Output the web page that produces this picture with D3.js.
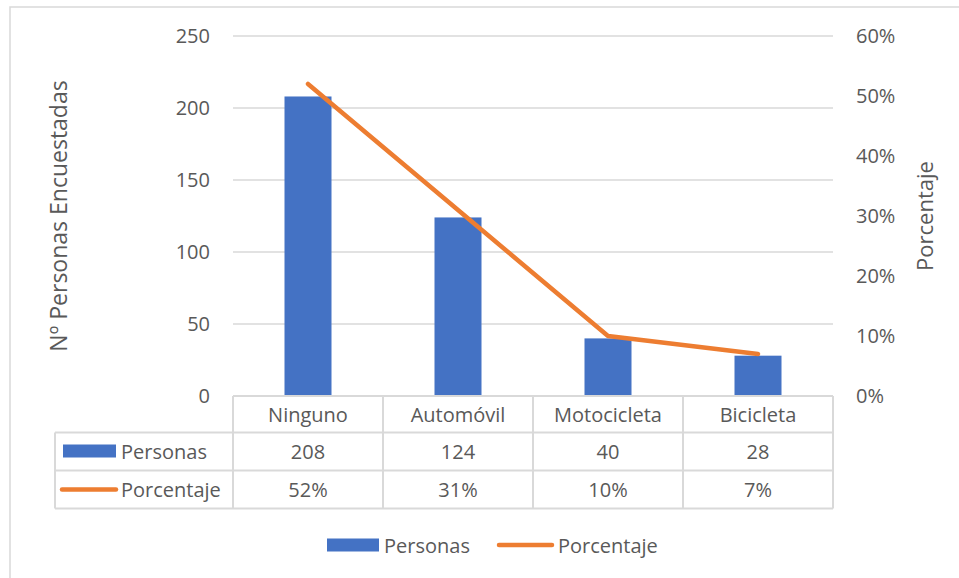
<!DOCTYPE html>
<html><head><meta charset="utf-8">
<script src="https://cdn.jsdelivr.net/npm/d3@7"></script>
<style>body{margin:0;background:#fff}svg{display:block;font-family:"Open Sans",sans-serif}</style>
</head><body>
<svg id="c" width="959" height="578"></svg>
<script>
const categories = ["Ninguno","Automóvil","Motocicleta","Bicicleta"];
const personas = [208,124,40,28];
const porcentaje = [0.52,0.31,0.10,0.07];
const leftTicks = [0,50,100,150,200,250];
const rightTicks = [0,0.1,0.2,0.3,0.4,0.5,0.6];
const seriesNames = ["Personas","Porcentaje"];
const pctLabels = ["52%","31%","10%","7%"];

const svg = d3.select("#c");
const textCol = "#595959", gridCol = "#D9D9D9", blue = "#4472C4", orange = "#ED7D31";
const fs = 20;

svg.append("rect").attr("x",10).attr("y",7).attr("width",1000).attr("height",700)
  .attr("fill","none").attr("stroke",gridCol).attr("stroke-width",1.5);

const xc = d3.scaleBand().domain(categories).range([233,833]);
const yL = d3.scaleLinear().domain([0,250]).range([396,36]);
const yR = d3.scaleLinear().domain([0,0.6]).range([396,36]);

// gridlines
svg.append("g").selectAll("line").data(leftTicks.filter(d=>d>0)).join("line")
  .attr("x1",233).attr("x2",833).attr("y1",d=>yL(d)).attr("y2",d=>yL(d))
  .attr("stroke",gridCol).attr("stroke-width",1.3);

// left axis
const gL = svg.append("g").attr("transform","translate(233,0)")
  .call(d3.axisLeft(yL).tickValues(leftTicks).tickSize(0).tickPadding(23));
gL.select(".domain").remove();
gL.selectAll("text").attr("fill",textCol).style("font-size",fs+"px").style("font-family","Open Sans");

// right axis
const gR = svg.append("g").attr("transform","translate(833,0)")
  .call(d3.axisRight(yR).tickValues(rightTicks).tickFormat(d3.format(".0%")).tickSize(0).tickPadding(23));
gR.select(".domain").remove();
gR.selectAll("text").attr("fill",textCol).style("font-size",fs+"px").style("font-family","Open Sans");

// bars
svg.append("g").selectAll("rect").data(categories).join("rect")
  .attr("x",d=>xc(d)+xc.bandwidth()/2-23.5).attr("width",47)
  .attr("y",(d,i)=>yL(personas[i])).attr("height",(d,i)=>yL(0)-yL(personas[i]))
  .attr("fill",blue);

// line
const line = d3.line().x((d,i)=>xc(categories[i])+xc.bandwidth()/2).y(d=>yR(d));
svg.append("path").datum(porcentaje).attr("d",line).attr("fill","none")
  .attr("stroke",orange).attr("stroke-width",4.5).attr("stroke-linecap","round").attr("stroke-linejoin","round");

// axis titles
svg.append("text").attr("transform","translate(67,216) rotate(-90)").attr("text-anchor","middle")
  .attr("fill",textCol).style("font-size","23px").text("Nº Personas Encuestadas");
svg.append("text").attr("transform","translate(933,216) rotate(-90)").attr("text-anchor","middle")
  .attr("fill",textCol).style("font-size","22px").text("Porcentaje");

// data table
const rowY = [396,432.5,470.5,508.5];
const tg = svg.append("g").attr("stroke",gridCol).attr("stroke-width",2);
tg.append("line").attr("x1",233).attr("x2",833).attr("y1",rowY[0]).attr("y2",rowY[0]);
[1,2,3].forEach(k=>tg.append("line").attr("x1",55).attr("x2",833).attr("y1",rowY[k]).attr("y2",rowY[k]));
tg.append("line").attr("x1",55).attr("x2",55).attr("y1",rowY[1]).attr("y2",rowY[3]);
categories.forEach(c=>tg.append("line").attr("x1",xc(c)).attr("x2",xc(c)).attr("y1",rowY[0]).attr("y2",rowY[3]));
tg.append("line").attr("x1",833).attr("x2",833).attr("y1",rowY[0]).attr("y2",rowY[3]);

const cellText = (txt, cx, cy, anchor) => svg.append("text").attr("x",cx).attr("y",cy)
  .attr("text-anchor",anchor||"middle").attr("dominant-baseline","central")
  .attr("fill",textCol).style("font-size",fs+"px").text(txt);

categories.forEach((c,i)=>{
  const cx = xc(c)+xc.bandwidth()/2;
  cellText(c, cx, (rowY[0]+rowY[1])/2);
  cellText(personas[i], cx, (rowY[1]+rowY[2])/2);
  cellText(pctLabels[i], cx, (rowY[2]+rowY[3])/2);
});
// table legend keys
svg.append("rect").attr("x",63).attr("y",444.5).attr("width",53).attr("height",13).attr("fill",blue);
svg.append("line").attr("x1",62).attr("x2",116).attr("y1",489.5).attr("y2",489.5)
  .attr("stroke",orange).attr("stroke-width",4.5).attr("stroke-linecap","round");
cellText(seriesNames[0],121,(rowY[1]+rowY[2])/2,"start");
cellText(seriesNames[1],121,(rowY[2]+rowY[3])/2,"start");

// bottom legend
svg.append("rect").attr("x",327).attr("y",538.5).attr("width",52).attr("height",13).attr("fill",blue);
cellText(seriesNames[0],384,545,"start");
svg.append("line").attr("x1",499).attr("x2",552).attr("y1",545).attr("y2",545)
  .attr("stroke",orange).attr("stroke-width",4.5).attr("stroke-linecap","round");
cellText(seriesNames[1],558,545,"start");
</script>
</body></html>
